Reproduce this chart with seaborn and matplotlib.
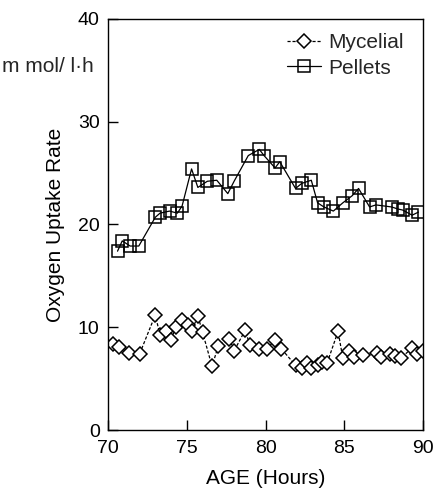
import seaborn as sns
import pandas as pd
import matplotlib.pyplot as plt

# Valores
horas_pellets = [70.6, 70.9, 71.4, 71.95, 73.0, 73.3, 73.9, 74.4, 74.7, 75.3, 75.7, 76.3,
                 76.9, 77.6, 78.0, 78.9, 79.6, 79.9, 80.6, 80.9, 81.9, 82.3, 82.9, 83.3,
                 83.7, 84.3, 84.9, 85.5, 85.9, 86.6, 87.0, 88.0, 88.4, 88.7, 89.3, 89.7]
taxa_pellets = [17.4, 18.4, 17.9, 17.9, 20.7, 21.1, 21.3, 21.1, 21.8, 25.4, 23.6, 24.2,
                24.3, 23.0, 24.2, 26.7, 27.3, 26.7, 25.5, 26.1, 23.5, 24.0, 24.3, 22.1,
                21.7, 21.3, 22.1, 22.8, 23.5, 21.7, 21.9, 21.7, 21.5, 21.4, 20.9, 21.2]

horas_mycelial = [70.3, 70.7, 71.3, 72.0, 73.0, 73.3, 73.7, 74.0, 74.3, 74.7, 75.1, 75.3,
                  75.7, 76.0, 76.6, 77.0, 77.7, 78.0, 78.7, 79.0, 79.6, 80.1, 80.6, 81.0,
                  81.9, 82.3, 82.6, 82.9, 83.3, 83.6, 83.9, 84.6, 84.9, 85.3, 85.6, 86.2,
                  87.1, 87.3, 87.9, 88.2, 88.6, 89.3, 89.6, 90.0]
taxa_mycelial = [8.4, 8.1, 7.5, 7.4, 11.2, 9.2, 9.6, 8.8, 10.0, 10.7, 10.2, 9.6,
                 11.1, 9.5, 6.2, 8.2, 8.9, 7.7, 9.7, 8.3, 7.9, 7.9, 8.8, 7.9,
                 6.3, 6.0, 6.5, 6.0, 6.3, 6.6, 6.5, 9.6, 7.0, 7.7, 7.1, 7.3,
                 7.5, 7.1, 7.4, 7.2, 7.0, 8.0, 7.4, 7.7]

df_myc = pd.DataFrame({"hora": horas_mycelial, "taxa": taxa_mycelial})
df_pel = pd.DataFrame({"hora": horas_pellets, "taxa": taxa_pellets})

sns.set_style("ticks")
plt.rcParams['font.family'] = ['Liberation Sans', 'DejaVu Sans']

fig = plt.figure(figsize=(4.34, 4.96), dpi=100)
ax = fig.add_axes([0.249, 0.133, 0.726, 0.829])

sns.lineplot(x="hora", y="taxa", data=df_myc, ax=ax, color="black", linewidth=0.9,
             linestyle=(0, (2.5, 1.5)), marker="D", markersize=7, markerfacecolor="white",
             markeredgecolor="black", markeredgewidth=1.1, label="Mycelial")
sns.lineplot(x="hora", y="taxa", data=df_pel, ax=ax, color="black", linewidth=0.9,
             marker="s", markersize=8.5, markerfacecolor="none",
             markeredgecolor="black", markeredgewidth=1.1, label="Pellets")

ax.set_xlim(70, 90)
ax.set_ylim(0, 40)
ax.set_xticks([70, 75, 80, 85, 90])
ax.set_yticks([0, 10, 20, 30, 40])
ax.tick_params(direction="in", length=7, width=1, labelsize=14, colors="black")
ax.tick_params(axis="x", pad=7)
ax.tick_params(axis="y", pad=6)
for s in ax.spines.values():
    s.set_color("black")
    s.set_linewidth(1)

ax.set_xlabel("AGE (Hours)", fontsize=15, color="black", labelpad=9)
ax.set_ylabel("Oxygen Uptake Rate", fontsize=15, color="black", labelpad=9)
fig.text(0.005, 0.865, "m mol/ l·h", fontsize=15, ha="left", va="center")

leg = ax.legend(loc="upper right", bbox_to_anchor=(0.984, 1.0), frameon=False, fontsize=15,
                handlelength=1.6, handletextpad=0.35, borderaxespad=0.3, labelspacing=0.3)

plt.savefig("out.png", dpi=100)
